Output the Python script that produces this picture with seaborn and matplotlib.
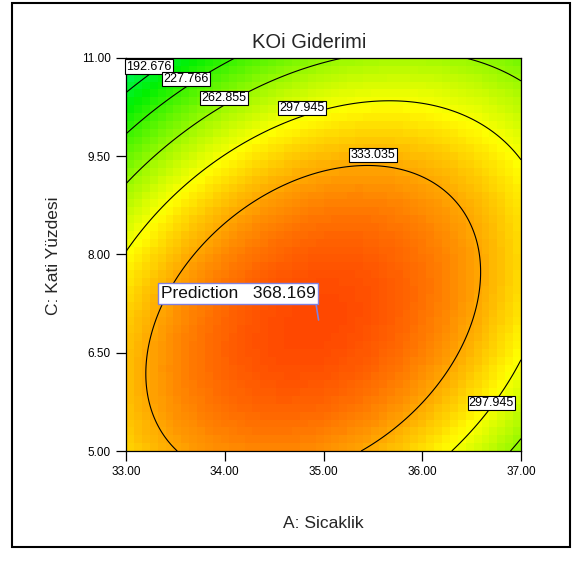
import matplotlib
matplotlib.use("Agg")
import matplotlib.pyplot as plt
import numpy as np
import pandas as pd
import seaborn as sns
from matplotlib.colors import LinearSegmentedColormap
from matplotlib.patches import Rectangle

# quadratic response model (coded units: a=(A-35)/2, c=(C-8)/3)
model_terms = ["b0", "A", "C", "AC", "A^2", "C^2"]
model_coefs = [361.5, 7.35, -40.9, 37.6, -55.0, -61.6]

contour_levels = [192.676, 227.766, 262.855, 297.945, 333.035]
a_ticks = [33.00, 34.00, 35.00, 36.00, 37.00]
c_ticks = [5.00, 6.50, 8.00, 9.50, 11.00]
a_range = (33.0, 37.0)
c_range = (5.0, 11.0)
pred_point = (34.95, 7.00)
pred_value = 368.169


def response(A, C):
    b0, b1, b2, b12, b11, b22 = model_coefs
    a = (A - 35.0) / 2.0
    c = (C - 8.0) / 3.0
    return b0 + b1 * a + b2 * c + b12 * a * c + b11 * a ** 2 + b22 * c ** 2


n_cells = 50
a_cells = a_range[0] + (np.arange(n_cells) + 0.5) * (a_range[1] - a_range[0]) / n_cells
c_cells = c_range[1] - (np.arange(n_cells) + 0.5) * (c_range[1] - c_range[0]) / n_cells
AA, CC = np.meshgrid(a_cells, c_cells)
df = pd.DataFrame(response(AA, CC), index=np.round(c_cells, 3), columns=np.round(a_cells, 3))


def to_x(A):
    return (np.asarray(A) - a_range[0]) / (a_range[1] - a_range[0]) * n_cells


def to_y(C):
    return (c_range[1] - np.asarray(C)) / (c_range[1] - c_range[0]) * n_cells


sns.set_style("white")
plt.rcParams['font.family'] = ['Liberation Sans', 'DejaVu Sans']

cmap = LinearSegmentedColormap.from_list(
    "de", ["#0000ff", "#00ffff", "#00f000", "#ffff00", "#ff0000"])

fig = plt.figure(figsize=(5.76, 5.63), dpi=100)
ax = fig.add_axes([126 / 576, 112 / 563, 395 / 576, 393 / 563])

sns.heatmap(df, cmap=cmap, vmin=20, vmax=395, cbar=False, ax=ax,
            xticklabels=False, yticklabels=False)

# contour lines on a finer grid
a_fine = np.linspace(a_range[0], a_range[1], 301)
c_fine = np.linspace(c_range[0], c_range[1], 301)
AF, CF = np.meshgrid(a_fine, c_fine)
ax.contour(to_x(AF), to_y(CF), response(AF, CF), levels=contour_levels,
           colors='black', linewidths=0.8)

# contour labels
label_spots = [(33.23, 10.87, 0), (33.61, 10.68, 1), (33.99, 10.39, 2),
               (34.78, 10.24, 3), (35.50, 9.52, 4), (36.70, 5.73, 3)]
for la, lc, k in label_spots:
    ax.text(to_x(la), to_y(lc), f"{contour_levels[k]:.3f}", fontsize=9,
            ha='center', va='center', color='black', zorder=5,
            bbox=dict(boxstyle='square,pad=0.1', fc='white', ec='black', lw=0.8))

# prediction flag
ax.annotate(f"Prediction   {pred_value:.3f}",
            xy=(to_x(pred_point[0]), to_y(pred_point[1])),
            xytext=(-3, 19), textcoords='offset pixels', ha='right', va='bottom',
            fontsize=12.5, color='#111111', zorder=6,
            bbox=dict(boxstyle='square,pad=0.15', fc='white', ec='#8080e0', lw=1),
            arrowprops=dict(arrowstyle='-', color='#8080e0', lw=1.2, relpos=(1, 0),
                            shrinkA=0, shrinkB=0))

ax.set_xticks(to_x(a_ticks))
ax.set_xticklabels([f"{v:.2f}" for v in a_ticks])
ax.set_yticks(to_y(c_ticks))
ax.set_yticklabels([f"{v:.2f}" for v in c_ticks], rotation=0)
ax.tick_params(axis='both', direction='out', length=7.5, width=0.9, pad=3.5,
               labelsize=8.5, colors='black', bottom=True, left=True)
ax.set_xlim(0, n_cells)
ax.set_ylim(n_cells, 0)
for s in ax.spines.values():
    s.set_visible(True)
    s.set_color('black')
    s.set_linewidth(0.9)
ax.set_xlabel("")
ax.set_ylabel("")

fig.text(309 / 576, 1 - 42 / 563, "KOi Giderimi", fontsize=14.5, ha='center', va='center')
fig.text(323 / 576, 1 - 523 / 563, "A: Sicaklik", fontsize=12.5, ha='center', va='center')
fig.text(53 / 576, 1 - 256 / 563, "C: Kati Yüzdesi", fontsize=12.5, ha='center',
         va='center', rotation=90)

fig.patches.append(Rectangle((12 / 576, 16 / 563), 558 / 576, 544 / 563,
                             transform=fig.transFigure, fill=False, ec='black', lw=1.5))

fig.savefig("out.png", dpi=100)
